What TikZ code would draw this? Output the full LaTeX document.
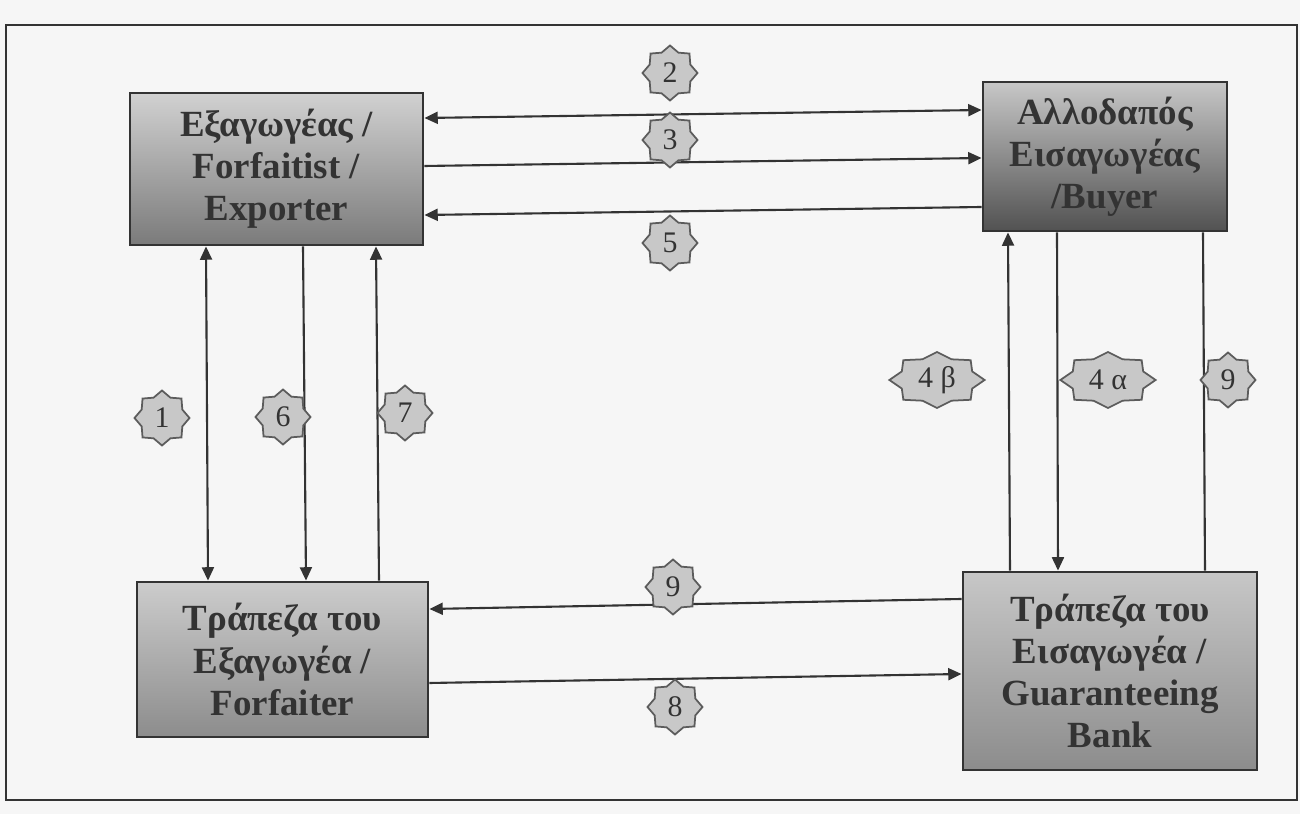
\documentclass[tikz,border=0pt]{standalone}
\usepackage{fontspec}
\setmainfont{Liberation Serif}
\usepackage{tikz}
\usetikzlibrary{arrows.meta,shapes.geometric}

\definecolor{ink}{HTML}{333333}
\definecolor{paper}{HTML}{F6F6F6}
\definecolor{tagfill}{HTML}{C8C8C8}

\begin{document}
\begin{tikzpicture}[
  x=0.1mm, y=-0.1mm,
  box/.style={draw=ink, line width=0.8pt, align=center, text=ink,
    font=\fontsize{10.5}{12}\selectfont\bfseries, inner sep=0pt},
  tag/.style={star, star points=8, star point ratio=1.25, draw=ink!80,
    fill=tagfill, line width=0.5pt, minimum size=5.5mm, inner sep=0pt,
    text=ink, font=\fontsize{8.5}{10}\selectfont},
  widetag/.style={tag, minimum size=5.6mm, xscale=1.7, transform shape},
  arr/.style={-{Triangle[length=3.8pt,width=3.4pt]}, ink, line width=0.6pt},
  darr/.style={{Triangle[length=3.8pt,width=3.4pt]}-{Triangle[length=3.8pt,width=3.4pt]}, ink, line width=0.6pt}
]
\fill[paper] (0,0) rectangle (1300,814);
\useasboundingbox (0,0) rectangle (1300,814);
\draw[ink, line width=0.6pt] (6,25) rectangle (1297,800);

% the four parties
\node[box, minimum width=29.3mm, minimum height=15.2mm,
  top color=black!18, bottom color=black!52] (exp) at (276.5,169)
  {Εξαγωγέας /\\Forfaitist /\\Exporter};
\node[box, minimum width=24.4mm, minimum height=14.9mm,
  top color=black!22, bottom color=black!68] (buyer) at (1105,156.5)
  {Αλλοδαπός\\Εισαγωγέας\\/Buyer};
\node[box, minimum width=29.1mm, minimum height=15.5mm,
  top color=black!20, bottom color=black!45] (forf) at (282.5,659.5)
  {Τράπεζα του\\Εξαγωγέα /\\Forfaiter};
\node[box, minimum width=29.4mm, minimum height=19.8mm,
  top color=black!22, bottom color=black!45] (bank) at (1110,671)
  {Τράπεζα του\\Εισαγωγέα /\\Guaranteeing\\Bank};

% flows
\draw[darr] ([yshift=5.1mm]exp.east) -- ([yshift=4.65mm]buyer.west);
\draw[arr] ([yshift=0.3mm]exp.east) -- ([yshift=-0.15mm]buyer.west);
\draw[arr] ([yshift=-5.05mm]buyer.west) -- ([yshift=-4.6mm]exp.east);
\draw[darr] ([xshift=-7.05mm]exp.south) -- ([xshift=-7.45mm]forf.north);
\draw[arr] ([xshift=2.65mm]exp.south) -- ([xshift=2.35mm]forf.north);
\draw[arr] ([xshift=9.65mm]forf.north) -- ([xshift=9.95mm]exp.south);
\draw[arr] ([xshift=-10mm]bank.north) -- ([xshift=-9.7mm]buyer.south);
\draw[arr] ([xshift=-4.8mm]buyer.south) -- ([xshift=-5.2mm]bank.north);
\draw[ink, line width=0.6pt] ([xshift=9.8mm]buyer.south) -- ([xshift=9.5mm]bank.north);
\draw[arr] ([yshift=7.2mm]bank.west) -- ([yshift=5.05mm]forf.east);
\draw[arr] ([yshift=-2.35mm]forf.east) -- ([yshift=-0.3mm]bank.west);

% step numbers
\node[tag] (t2) at (670,73) {2};
\node[tag] (t3) at (670,140) {3};
\node[tag] (t5) at (670,243) {5};
\node[tag] (t1) at (162,418) {1};
\node[tag] (t6) at (283,417) {6};
\node[tag] (t7) at (405,413) {7};
\node[widetag] (t4b) at (937,380) {\scalebox{0.59}[1]{4 β}};
\node[widetag] (t4a) at (1108,380) {\scalebox{0.59}[1]{4 α}};
\node[tag] (t9r) at (1228,380) {9};
\node[tag] (t9b) at (673,587) {9};
\node[tag] (t8) at (675,707) {8};
\end{tikzpicture}
\end{document}
